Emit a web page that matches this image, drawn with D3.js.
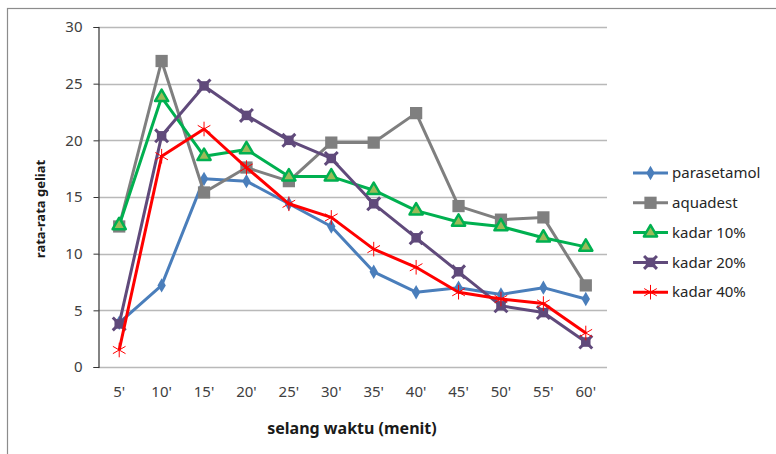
<!DOCTYPE html>
<html>
<head>
<meta charset="utf-8">
<script src="https://cdn.jsdelivr.net/npm/d3@7"></script>
<style>
  body { margin: 0; background: #fff; }
  text { font-family: "Noto Sans", Lato, sans-serif; }
</style>
</head>
<body>
<div id="chart"></div>
<script>
// categories (x axis)
var waktu = ["5'", "10'", "15'", "20'", "25'", "30'", "35'", "40'", "45'", "50'", "55'", "60'"];

// series values
var parasetamol = [3.9, 7.2, 16.6, 16.4, 14.4, 12.4, 8.4, 6.6, 7.0, 6.4, 7.0, 6.0];
var aquadest    = [12.4, 27.0, 15.4, 17.6, 16.4, 19.8, 19.8, 22.4, 14.2, 13.0, 13.2, 7.2];
var kadar10     = [12.5, 23.8, 18.6, 19.2, 16.8, 16.8, 15.6, 13.8, 12.8, 12.4, 11.4, 10.6];
var kadar20     = [3.8, 20.4, 24.8, 22.2, 20.0, 18.4, 14.4, 11.4, 8.4, 5.4, 4.8, 2.2];
var kadar40     = [1.5, 18.6, 21.0, 17.6, 14.4, 13.2, 10.4, 8.8, 6.6, 6.0, 5.6, 3.0];

var seriesNames = ["parasetamol", "aquadest", "kadar 10%", "kadar 20%", "kadar 40%"];
var yTicks = [0, 5, 10, 15, 20, 25, 30];

var series = [
  {name: seriesNames[0], values: parasetamol, color: "#4a7ebb", marker: "diamond"},
  {name: seriesNames[1], values: aquadest,    color: "#7f7f7f", marker: "square"},
  {name: seriesNames[2], values: kadar10,     color: "#00b050", marker: "triangle"},
  {name: seriesNames[3], values: kadar20,     color: "#604a7b", marker: "xsquare"},
  {name: seriesNames[4], values: kadar40,     color: "#ff0000", marker: "asterisk"}
];

var W = 776, H = 454;
var margin = {top: 27, right: 169, bottom: 87, left: 98},
    width = W - margin.left - margin.right,
    height = H - margin.top - margin.bottom;

var svg = d3.select("#chart").append("svg")
  .attr("width", W)
  .attr("height", H);

// outer chart border
svg.append("rect")
  .attr("x", 7.5).attr("y", 8.5)
  .attr("width", W + 20).attr("height", H + 20)
  .attr("fill", "none")
  .attr("stroke", "#8c8c8c")
  .attr("stroke-width", 1.2);

var g = svg.append("g")
  .attr("transform", "translate(" + margin.left + "," + margin.top + ")");

var x = d3.scaleBand().domain(waktu).range([0, width]);
var y = d3.scaleLinear().domain([0, 30]).range([height, 0]);

// gridlines
g.append("g")
  .selectAll("line")
  .data(yTicks)
  .enter().append("line")
  .attr("x1", 0).attr("x2", width)
  .attr("y1", d => Math.round(y(d)) + 0.5)
  .attr("y2", d => Math.round(y(d)) + 0.5)
  .attr("stroke", "#b9b9b9")
  .attr("stroke-width", 1.3);

// y axis
var yAxis = g.append("g")
  .attr("transform", "translate(0.5,0)")
  .call(d3.axisLeft(y).tickValues(yTicks).tickSize(5).tickPadding(11));
yAxis.select(".domain").attr("stroke", "#333").attr("stroke-width", 1.2);
yAxis.selectAll(".tick line").attr("stroke", "#333");
yAxis.selectAll(".tick text")
  .attr("fill", "#404040")
  .style("font-size", "15px");

// x axis (labels only, the baseline is the 0 gridline)
var xAxis = g.append("g")
  .attr("transform", "translate(0," + height + ")")
  .call(d3.axisBottom(x).tickSize(0).tickPadding(19));
xAxis.select(".domain").remove();
xAxis.selectAll(".tick text")
  .attr("fill", "#404040")
  .style("font-size", "15px");

// axis titles
svg.append("text")
  .attr("x", 352)
  .attr("y", 434)
  .attr("text-anchor", "middle")
  .style("font-size", "16px")
  .style("font-weight", "bold")
  .attr("fill", "#1a1a1a")
  .text("selang waktu (menit)");

svg.append("text")
  .attr("transform", "translate(45,209) rotate(-90)")
  .attr("text-anchor", "middle")
  .style("font-size", "13px")
  .style("font-weight", "bold")
  .attr("fill", "#1a1a1a")
  .text("rata-rata geliat");

// marker drawing
function drawMarker(sel, type, color) {
  if (type === "diamond") {
    sel.append("path")
      .attr("d", d3.symbol(d3.symbolDiamond, 60)())
      .attr("fill", color);
  } else if (type === "square") {
    sel.append("path")
      .attr("d", d3.symbol(d3.symbolSquare, 150)())
      .attr("fill", color);
  } else if (type === "triangle") {
    sel.append("path")
      .attr("d", d3.symbol(d3.symbolTriangle, 75)())
      .attr("fill", "#9bbb59")
      .attr("stroke", color)
      .attr("stroke-width", 2.5)
      .attr("stroke-linejoin", "round");
  } else if (type === "xsquare") {
    sel.append("path")
      .attr("d", d3.symbol(d3.symbolSquare, 90)())
      .attr("fill", color);
    sel.append("path")
      .attr("d", d3.symbol(d3.symbolX, 110)())
      .attr("fill", "none")
      .attr("stroke", color)
      .attr("stroke-width", 3);
  } else if (type === "asterisk") {
    sel.append("path")
      .attr("d", d3.symbol(d3.symbolAsterisk, 150)())
      .attr("fill", "none")
      .attr("stroke", color)
      .attr("stroke-width", 1);
  }
}

var line = d3.line()
  .x((d, i) => x(waktu[i]) + x.bandwidth() / 2)
  .y(d => y(d));

series.forEach(s => {
  var sg = g.append("g");
  sg.append("path")
    .datum(s.values)
    .attr("d", line)
    .attr("fill", "none")
    .attr("stroke", s.color)
    .attr("stroke-width", 3)
    .attr("stroke-linejoin", "round");
  sg.selectAll("g.m")
    .data(s.values)
    .enter().append("g")
    .attr("class", "m")
    .attr("transform", (d, i) => "translate(" + (x(waktu[i]) + x.bandwidth() / 2) + "," + y(d) + ")")
    .each(function () { drawMarker(d3.select(this), s.marker, s.color); });
});

// legend
var legend = svg.append("g").attr("transform", "translate(633,173)");
var item = legend.selectAll("g")
  .data(series)
  .enter().append("g")
  .attr("transform", (d, i) => "translate(0," + (i * 29.8) + ")");
item.append("line")
  .attr("x1", 0).attr("x2", 35)
  .attr("stroke", d => d.color)
  .attr("stroke-width", 3);
item.append("g")
  .attr("transform", "translate(17.5,0)")
  .each(function (d) { drawMarker(d3.select(this), d.marker, d.color); });
item.append("text")
  .attr("x", 39)
  .attr("dy", "0.35em")
  .style("font-size", "15px")
  .attr("fill", "#262626")
  .text(d => d.name);
</script>
</body>
</html>
